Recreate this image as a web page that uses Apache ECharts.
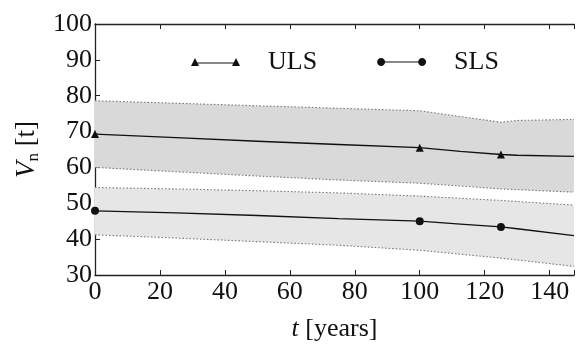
<!DOCTYPE html>
<html>
<head>
<meta charset="utf-8">
<script src="https://cdn.jsdelivr.net/npm/echarts@6/dist/echarts.min.js"></script>
<style>
    html, body { margin: 0; padding: 0; background: #fff; }
    #chart { width: 577px; height: 347px; }
</style>
</head>
<body>
<div id="chart"></div>
<script>
// time points (years)
var tYears = [0, 25, 50, 75, 100, 112.5, 125, 130, 147.5];
// points that carry a marker
var markedYears = [0, 100, 125];

var ulsUpper = [78.6, 77.9, 77.2, 76.5, 75.8, 74.2, 72.6, 73.1, 73.4];
var ulsMean  = [69.3, 68.3, 67.3, 66.4, 65.5, 64.5, 63.6, 63.4, 63.1];
var ulsLower = [60.0, 58.8, 57.6, 56.5, 55.6, 54.8, 54.0, 53.8, 53.1];

var slsUpper = [54.4, 54.0, 53.5, 52.9, 52.0, 51.4, 50.8, 50.5, 49.5];
var slsMean  = [47.9, 47.3, 46.6, 45.7, 45.0, 44.2, 43.4, 42.9, 41.0];
var slsLower = [41.2, 40.3, 39.3, 38.3, 36.9, 35.8, 34.7, 34.2, 32.4];

var xTicks = [0, 20, 40, 60, 80, 100, 120, 140];

var serif = '"Liberation Serif", "DejaVu Serif", serif';

function pairs(vals) {
    var list = [];
    for (var i = 0; i < tYears.length; i++) {
        list.push([tYears[i], vals[i]]);
    }
    return list;
}

function markedPairs(vals) {
    var list = [];
    for (var i = 0; i < tYears.length; i++) {
        var show = markedYears.indexOf(tYears[i]) >= 0;
        list.push({value: [tYears[i], vals[i]], symbolSize: show ? 8 : 0});
    }
    return list;
}

// filled band between lower and upper, drawn as one polygon through the axes
function bandFill(lower, upper, fill) {
    var rows = [];
    for (var i = 0; i < tYears.length; i++) {
        rows.push([tYears[i], lower[i], upper[i]]);
    }
    return {
        type: 'custom',
        silent: true,
        clip: true,
        z: 1,
        encode: {x: 0, y: [1, 2]},
        data: rows,
        renderItem: function (params, api) {
            if (params.dataIndex !== 0) return;
            var pts = [];
            for (var i = 0; i < rows.length; i++) {
                pts.push(api.coord([rows[i][0], rows[i][2]]));
            }
            for (var j = rows.length - 1; j >= 0; j--) {
                pts.push(api.coord([rows[j][0], rows[j][1]]));
            }
            return {
                type: 'polygon',
                shape: {points: pts},
                style: {fill: fill, stroke: null}
            };
        }
    };
}

function edgeLine(vals) {
    return {
        type: 'line',
        symbol: 'none',
        silent: true,
        z: 2,
        lineStyle: {color: '#777', width: 1.1, type: [1.5, 2]},
        data: pairs(vals)
    };
}

var ulsIcon = 'path://M0,8L4,0L8,8Z M4,4.5L45,4.5L45,5.5L4,5.5Z M41,8L45,0L49,8Z';
var slsIcon = 'path://M0,4C0,1.8 1.8,0 4,0C6.2,0 8,1.8 8,4C8,6.2 6.2,8 4,8C1.8,8 0,6.2 0,4Z' +
    ' M4,3.5L45,3.5L45,4.5L4,4.5Z' +
    ' M41,4C41,1.8 42.8,0 45,0C47.2,0 49,1.8 49,4C49,6.2 47.2,8 45,8C42.8,8 41,6.2 41,4Z';

var chart = echarts.init(document.getElementById('chart'));

var axisLine = {lineStyle: {color: '#222', width: 1.3}};
var tick = {inside: true, length: 5, lineStyle: {color: '#222', width: 1}};

chart.setOption({
    animation: false,
    grid: {left: 95, top: 24, right: 0, bottom: 63},
    legend: {
        left: 186,
        top: 44,
        itemWidth: 49,
        itemHeight: 8,
        itemGap: 60,
        textStyle: {fontFamily: serif, fontSize: 26, color: '#111', padding: [0, 0, 0, 23]},
        data: [{name: 'ULS', icon: ulsIcon}, {name: 'SLS', icon: slsIcon}]
    },
    xAxis: [{
        type: 'value',
        min: 0,
        max: 147.5,
        interval: 20,
        name: '{i|t} [years]',
        nameLocation: 'middle',
        nameGap: 41,
        nameTextStyle: {
            fontFamily: serif, fontSize: 26, color: '#111',
            rich: {i: {fontFamily: serif, fontSize: 26, fontStyle: 'italic', color: '#111'}}
        },
        axisLine: axisLine,
        axisTick: tick,
        splitLine: {show: false},
        axisLabel: {
            fontFamily: serif, fontSize: 26, color: '#111', margin: 4,
            formatter: function (v) { return xTicks.indexOf(v) >= 0 ? String(v) : ''; }
        }
    }, {
        type: 'value',
        position: 'top',
        min: 0,
        max: 147.5,
        interval: 20,
        axisLine: axisLine,
        axisTick: tick,
        axisLabel: {show: false},
        splitLine: {show: false}
    }],
    yAxis: {
        type: 'value',
        min: 30,
        max: 100,
        interval: 10,
        name: '{i|V}{s|n} [t]',
        nameLocation: 'middle',
        nameRotate: 90,
        nameGap: 52,
        nameTextStyle: {
            fontFamily: serif, fontSize: 27, color: '#111', lineHeight: 30,
            rich: {
                i: {fontFamily: serif, fontSize: 27, fontStyle: 'italic', color: '#111', lineHeight: 30},
                s: {fontFamily: serif, fontSize: 17, color: '#111', lineHeight: 30, verticalAlign: 'bottom'}
            }
        },
        axisLine: {show: true, lineStyle: {color: '#222', width: 1.3}},
        axisTick: tick,
        splitLine: {show: false},
        axisLabel: {fontFamily: serif, fontSize: 26, color: '#111', margin: 3}
    },
    series: [
        bandFill(ulsLower, ulsUpper, '#d9d9d9'),
        bandFill(slsLower, slsUpper, '#e6e6e6'),
        edgeLine(ulsUpper),
        edgeLine(ulsLower),
        edgeLine(slsUpper),
        edgeLine(slsLower),
        {
            name: 'ULS',
            type: 'line',
            symbol: 'triangle',
            color: '#111',
            lineStyle: {color: '#111', width: 1.3},
            z: 5,
            data: markedPairs(ulsMean)
        }, {
            name: 'SLS',
            type: 'line',
            symbol: 'circle',
            color: '#111',
            lineStyle: {color: '#111', width: 1.3},
            z: 5,
            data: markedPairs(slsMean)
        }
    ]
});
</script>
</body>
</html>
